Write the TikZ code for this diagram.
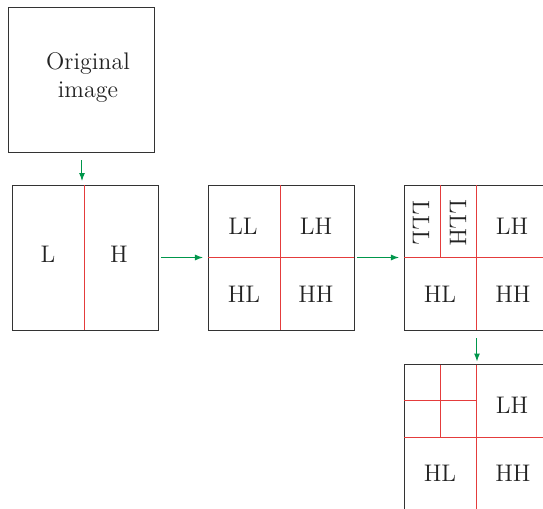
\documentclass[tikz,border=0pt]{standalone}
\usetikzlibrary{arrows.meta,calc}
\definecolor{arrgreen}{RGB}{0,150,75}
\definecolor{divred}{RGB}{228,60,60}
\definecolor{txt}{RGB}{35,35,35}
\begin{document}
\begin{tikzpicture}[x=0.5pt,y=-0.5pt,
  box/.style={draw=black!80,line width=0.45pt,minimum width=73pt,minimum height=72.5pt,inner sep=0pt,outer sep=0pt},
  lbl/.style={font=\large,text=txt,inner sep=0pt},
  div/.style={draw=divred,line width=0.5pt},
  flow/.style={draw=arrgreen,line width=0.5pt,-{Latex[length=4pt,width=3pt]}}]
\useasboundingbox (0,0) rectangle (543,509);
\clip (0,0) rectangle (543,509);
% boxes
\node[box] (b0) at (81,79.5) {};
\node[box] (b1) at (85,257.5) {};
\node[box] (b2) at (281,257.5) {};
\node[box] (b3) at (477,257.5) {};
\node[box] (b4) at (477,437) {};
% original image text
\node[lbl,align=center] (orig) at (88,78) {Original\\image};
% b1 division
\draw[div] (b1.north) -- (b1.south);
\node[lbl] (l1) at (48,254) {L};
\node[lbl] (h1) at (119,254) {H};
% b2 divisions
\draw[div] (b2.north) -- (b2.south);
\draw[div] (b2.west) -- (b2.east);
\node[lbl] (ll2) at (243,226) {LL};
\node[lbl] (lh2) at (316,226) {LH};
\node[lbl] (hl2) at (244,294) {HL};
\node[lbl] (hh2) at (316,294) {HH};
% b3 divisions
\draw[div] (b3.north) -- (b3.south);
\draw[div] (b3.west) -- (b3.east);
\draw[div] ($(b3.north west)!0.25!(b3.north east)$) -- ($(b3.west)!0.25!(b3.east)$);
\node[lbl,rotate=-90] (lll3) at (421,223) {LLL};
\node[lbl,rotate=-90] (llh3) at (458,223) {LLH};
\node[lbl] (lh3) at (512,226) {LH};
\node[lbl] (hl3) at (440,294) {HL};
\node[lbl] (hh3) at (513,294) {HH};
% b4 divisions
\draw[div] (b4.north) -- (b4.south);
\draw[div] (b4.west) -- (b4.east);
\draw[div] ($(b4.north west)!0.25!(b4.north east)$) -- ($(b4.west)!0.25!(b4.east)$);
\draw[div] ($(b4.north west)!0.5!(b4.west)$) -- ($(b4.north)!0.5!(b4.center)$);
\node[lbl] (lh4) at (512,405) {LH};
\node[lbl] (hl4) at (440,473) {HL};
\node[lbl] (hh4) at (513,473) {HH};
% arrows
\coordinate (a0) at ($(b0.south)+(1,0)$);
\draw[flow,shorten <=4pt,shorten >=2pt] (a0) -- (a0 |- b1.north);
\draw[flow,shorten <=1.5pt,shorten >=2.5pt] (b1.east) -- (b2.west);
\draw[flow,shorten <=1.5pt,shorten >=2.5pt] (b2.east) -- (b3.west);
\draw[flow,shorten <=4pt,shorten >=1.5pt] (b3.south) -- (b4.north);
\end{tikzpicture}
\end{document}
